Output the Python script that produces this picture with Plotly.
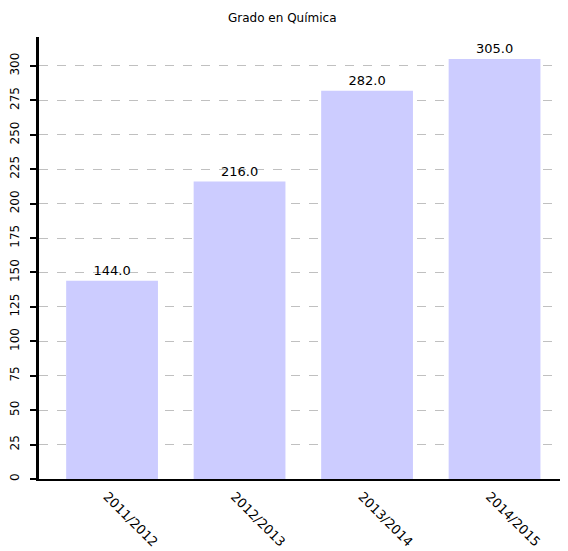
import plotly.graph_objects as go

categories = ["2011/2012", "2012/2013", "2013/2014", "2014/2015"]
values = [144.0, 216.0, 282.0, 305.0]
y_ticks = [0, 25, 50, 75, 100, 125, 150, 175, 200, 225, 250, 275, 300]

fig = go.Figure()
fig.add_trace(go.Bar(
    x=categories, y=values,
    marker=dict(color="#ccccff", line=dict(width=0)),
    width=0.72,
    texttemplate="%{y:.1f}", textposition="outside",
    textfont=dict(family="DejaVu Sans", size=13, color="black"),
    cliponaxis=False,
))

fig.update_layout(
    width=560, height=543,
    margin=dict(l=31, r=0, t=29, b=72),
    plot_bgcolor="white", paper_bgcolor="white",
    font=dict(family="DejaVu Sans", size=11, color="black"),
    showlegend=False,
    annotations=[dict(text="Grado en Química", x=0.461, y=1.0, xref="paper", yref="paper",
                      yanchor="bottom", yshift=10,
                      showarrow=False, font=dict(size=12, family="DejaVu Sans"))],
)
fig.update_xaxes(
    range=[-0.573, 3.576], automargin=False,
    tickangle=45, showgrid=False,
    showline=True, linecolor="black", linewidth=1.5,
    ticks="", tickfont=dict(size=13),
    ticklabelshift=-5, ticklabelstandoff=3,
)
fig.update_yaxes(
    range=[0, 321], automargin=False,
    tickvals=y_ticks, tickangle=-90,
    showgrid=True, gridcolor="#c0c0c0", griddash="dash", gridwidth=1,
    zeroline=False,
    showline=True, linecolor="black", linewidth=2.5,
    ticks="outside", ticklen=6, tickwidth=2, tickcolor="black",
    tickfont=dict(size=12), ticklabelstandoff=6,
)

fig.write_html("out.html")
